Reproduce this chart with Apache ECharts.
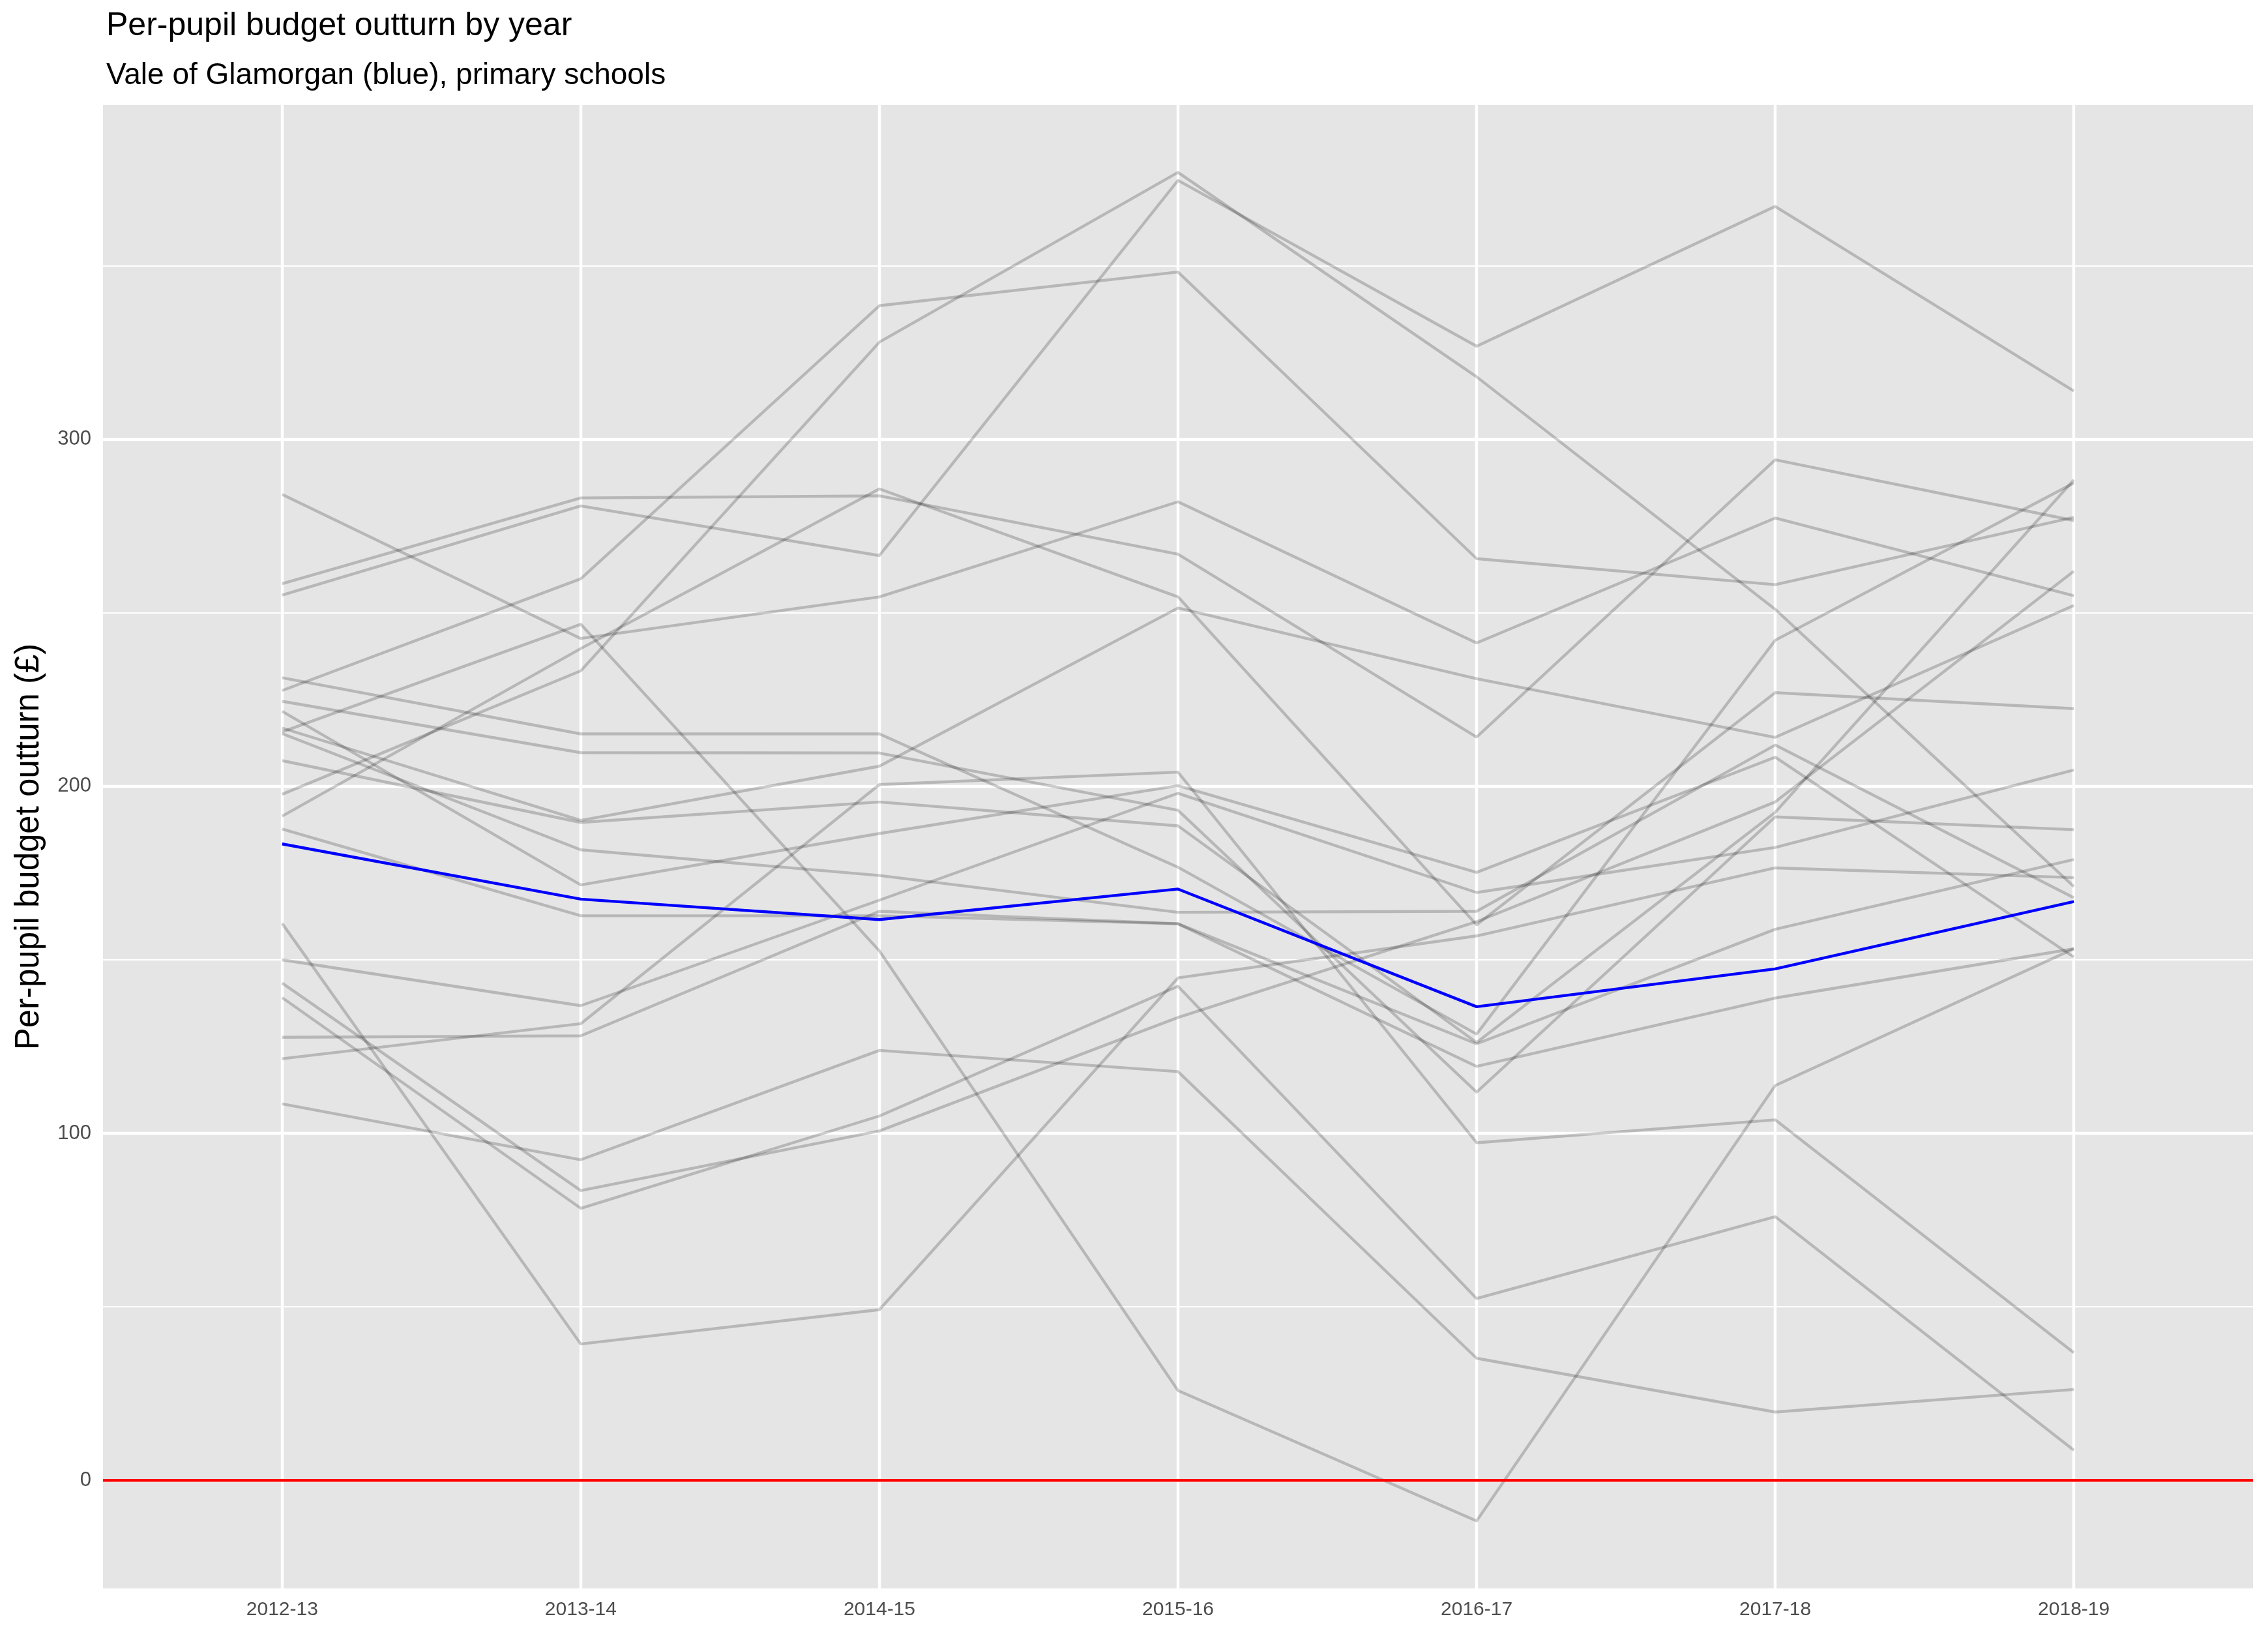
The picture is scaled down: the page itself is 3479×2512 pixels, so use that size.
<!DOCTYPE html>
<html>
<head>
<meta charset="utf-8">
<script src="https://cdn.jsdelivr.net/npm/echarts@6/dist/echarts.min.js"></script>
<style>
html,body{margin:0;padding:0;background:#fff;}
#chart{width:3479px;height:2512px;}
</style>
</head>
<body>
<div id="chart"></div>
<script>
// ---- data ----
const years = ['2012-13','2013-14','2014-15','2015-16','2016-17','2017-18','2018-19'];
const yTicks = [0, 100, 200, 300];
const yMinorTicks = [50, 150, 250, 350];
const valeOfGlamorgan = [183.4, 167.5, 161.6, 170.4, 136.5, 147.4, 166.8];
const la01 = [284.1, 242.6, 254.6, 282.0, 241.3, 277.3, 254.9];
const la02 = [258.4, 283.1, 283.7, 266.9, 214.2, 294.1, 276.6];
const la03 = [255.1, 280.8, 266.5, 374.6, 326.8, 367.1, 313.9];
const la04 = [231.3, 215.1, 215.1, 176.7, 128.6, 242.1, 287.4];
const la05 = [227.6, 259.8, 338.5, 348.2, 265.6, 258.1, 277.5];
const la06 = [224.5, 209.7, 209.6, 193.1, 111.9, 191.2, 187.5];
const la07 = [221.6, 171.6, 186.4, 200.2, 175.2, 208.4, 150.8];
const la08 = [216.8, 190.2, 205.8, 251.4, 231.0, 214.1, 252.1];
const la09 = [215.7, 246.7, 152.6, 25.9, -11.7, 113.8, 153.2];
const la10 = [215.2, 181.7, 174.3, 163.7, 164.0, 211.9, 167.9];
const la11 = [207.4, 189.6, 195.5, 188.6, 126.2, 192.5, 288.3];
const la12 = [197.7, 233.3, 328.0, 376.9, 318.0, 251.0, 171.1];
const la13 = [191.4, 239.7, 285.7, 254.6, 160.1, 227.0, 222.4];
const la14 = [187.7, 162.7, 162.7, 160.4, 125.8, 158.8, 178.9];
const la15 = [160.5, 39.3, 49.2, 144.8, 156.9, 176.5, 173.7];
const la16 = [150.0, 136.8, 167.2, 198.0, 169.4, 182.4, 204.7];
const la17 = [143.3, 83.5, 100.7, 133.4, 161.0, 195.5, 262.0];
const la18 = [139.1, 78.4, 105.0, 142.4, 52.4, 76.0, 8.7];
const la19 = [127.7, 128.1, 164.0, 160.4, 119.3, 139.0, 153.2];
const la20 = [121.5, 131.6, 200.5, 204.1, 97.3, 103.9, 36.8];
const la21 = [108.5, 92.4, 123.9, 117.8, 35.2, 19.7, 26.2];
const otherAuthorities = [la01,la02,la03,la04,la05,la06,la07,la08,la09,la10,la11,la12,la13,la14,la15,la16,la17,la18,la19,la20,la21];

// ---- scales like ggplot (5% continuous expansion, 0.6 discrete padding) ----
const allVals = otherAuthorities.flat().concat(valeOfGlamorgan);
const dMin = Math.min(...allVals), dMax = Math.max(...allVals);
const pad = (dMax - dMin) * 0.05;
const yMin = dMin - pad, yMax = dMax + pad;
const xIdx = years.map((_, i) => i);
const toPts = arr => arr.map((v, i) => [i, v]);

const FONT = '"Liberation Sans", Arial, Helvetica, sans-serif';

const series = [];
// panel gridlines (drawn through the axes via markLine), kept beneath the data lines
series.push({
  type: 'line', data: [[0, 0]], symbol: 'none', silent: true, z: 1,
  lineStyle: {opacity: 0},
  markLine: {
    silent: true, z: 1, symbol: ['none','none'], label: {show: false}, animation: false,
    data: [
      ...yMinorTicks.map(v => ({yAxis: v, lineStyle: {color: '#ffffff', width: 2.2, type: 'solid'}})),
      ...yTicks.map(v => ({yAxis: v, lineStyle: {color: '#ffffff', width: 4.4, type: 'solid'}})),
      ...xIdx.map(i => ({xAxis: i, lineStyle: {color: '#ffffff', width: 4.4, type: 'solid'}}))
    ]
  }
});
otherAuthorities.forEach((arr, k) => {
  series.push({
    type: 'line', name: 'la' + (k + 1), data: toPts(arr), symbol: 'none', silent: true, z: 2,
    lineStyle: {color: 'rgba(0,0,0,0.2)', width: 4.4}
  });
});
series.push({
  type: 'line', name: 'Vale of Glamorgan', data: toPts(valeOfGlamorgan), symbol: 'none', silent: true, z: 3,
  lineStyle: {color: '#0000FF', width: 4.4}
});
series.push({
  type: 'line', name: 'zero', data: [[-0.6, 0], [years.length - 0.4, 0]], symbol: 'none', silent: true, z: 4,
  lineStyle: {color: '#FF0000', width: 4.4}
});

const chart = echarts.init(document.getElementById('chart'), null, {renderer: 'canvas'});
chart.setOption({
  animation: false,
  backgroundColor: '#ffffff',
  title: [
    {text: 'Per-pupil budget outturn by year', left: 158, top: 10,
     textStyle: {fontFamily: FONT, fontSize: 50, fontWeight: 'normal', color: '#000'}},
    {text: 'Vale of Glamorgan (blue), primary schools', left: 158, top: 88,
     textStyle: {fontFamily: FONT, fontSize: 46, fontWeight: 'normal', color: '#000'}}
  ],
  grid: {left: 158, right: 23, top: 161, bottom: 76, show: true, backgroundColor: '#E5E5E5', borderWidth: 0, containLabel: false},
  xAxis: {
    type: 'value', min: -0.6, max: years.length - 0.4,
    splitLine: {show: false}, axisLine: {show: false},
    axisTick: {show: true, customValues: xIdx, length: 10, lineStyle: {color: '#333333', width: 4}},
    axisLabel: {show: true, customValues: xIdx, formatter: v => years[Math.round(v)] || '',
      color: '#4D4D4D', fontFamily: FONT, fontSize: 30, margin: 18}
  },
  yAxis: {
    type: 'value', min: yMin, max: yMax,
    splitLine: {show: false}, axisLine: {show: false},
    axisTick: {show: true, customValues: yTicks, length: 10, lineStyle: {color: '#333333', width: 4}},
    axisLabel: {show: true, customValues: yTicks, color: '#4D4D4D', fontFamily: FONT, fontSize: 31, margin: 18},
    name: 'Per-pupil budget outturn (£)', nameLocation: 'middle', nameGap: 88, nameRotate: 90,
    nameTextStyle: {fontFamily: FONT, fontSize: 51, color: '#000'}
  },
  series: series
});
</script>
</body>
</html>
